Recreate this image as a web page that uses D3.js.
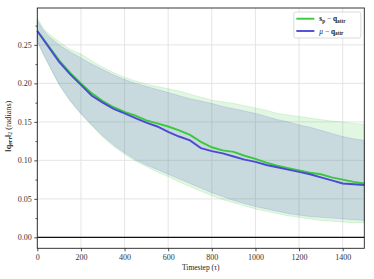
<!DOCTYPE html>
<html>
<head>
<meta charset="utf-8">
<script src="https://cdn.jsdelivr.net/npm/d3@7"></script>
<style>
  body { margin: 0; background: #fff; }
  svg { display: block; font-family: "Liberation Serif", "DejaVu Serif", serif; }
</style>
</head>
<body>
<div id="chart"></div>
<script>
// data
var timesteps = [0, 25, 50, 100, 150, 200, 250, 300, 350, 400, 450, 500, 550, 600, 650, 700,
  750, 800, 850, 900, 950, 1000, 1050, 1100, 1150, 1200, 1250, 1300, 1350, 1400, 1450, 1499];

var spMean = [0.268, 0.259, 0.249, 0.230, 0.214, 0.200, 0.187, 0.177, 0.169, 0.163, 0.158, 0.152,
  0.148, 0.144, 0.139, 0.133, 0.124, 0.117, 0.113, 0.111, 0.106, 0.102, 0.097, 0.093, 0.090,
  0.087, 0.084, 0.082, 0.078, 0.075, 0.072, 0.070];
var spUpper = [0.285, 0.273, 0.265, 0.254, 0.244, 0.238, 0.229, 0.221, 0.214, 0.208, 0.203, 0.199,
  0.196, 0.193, 0.190, 0.186, 0.182, 0.178, 0.176, 0.174, 0.171, 0.168, 0.165, 0.161, 0.159,
  0.157, 0.155, 0.153, 0.151, 0.150, 0.148, 0.147];
var spLower = [0.254, 0.239, 0.225, 0.198, 0.177, 0.160, 0.145, 0.130, 0.118, 0.108, 0.099, 0.092,
  0.085, 0.079, 0.072, 0.066, 0.060, 0.054, 0.049, 0.045, 0.041, 0.037, 0.034, 0.031, 0.028,
  0.026, 0.024, 0.022, 0.021, 0.020, 0.019, 0.019];

var muMean = [0.268, 0.258, 0.248, 0.228, 0.212, 0.198, 0.184, 0.175, 0.167, 0.161, 0.155, 0.149,
  0.144, 0.137, 0.131, 0.126, 0.116, 0.112, 0.109, 0.105, 0.101, 0.098, 0.094, 0.091, 0.088,
  0.085, 0.082, 0.078, 0.074, 0.070, 0.069, 0.068];
var muUpper = [0.282, 0.270, 0.262, 0.250, 0.241, 0.233, 0.225, 0.218, 0.211, 0.205, 0.200, 0.196,
  0.192, 0.188, 0.184, 0.180, 0.177, 0.174, 0.170, 0.167, 0.164, 0.161, 0.157, 0.153, 0.150,
  0.146, 0.143, 0.139, 0.135, 0.131, 0.128, 0.126];
var muLower = [0.255, 0.240, 0.226, 0.199, 0.178, 0.161, 0.146, 0.132, 0.120, 0.110, 0.101, 0.094,
  0.088, 0.082, 0.076, 0.070, 0.064, 0.058, 0.053, 0.048, 0.044, 0.040, 0.037, 0.034, 0.031,
  0.029, 0.027, 0.026, 0.025, 0.024, 0.023, 0.022];

var xTicks = [0, 200, 400, 600, 800, 1000, 1200, 1400];
var yTicks = [0, 0.05, 0.10, 0.15, 0.20, 0.25];
var yMinorTicks = [0.025, 0.075, 0.125, 0.175, 0.225, 0.275];

var green = "#3cc83c", blue = "#4b4bd2";

// dimensions
var W = 374, H = 279;
var margin = {top: 8, right: 9.7, bottom: 30.7, left: 37.3},
    width = W - margin.left - margin.right,
    height = H - margin.top - margin.bottom;

var svg = d3.select("#chart").append("svg")
    .attr("width", W).attr("height", H)
  .append("g")
    .attr("transform", "translate(" + margin.left + "," + margin.top + ")");

var x = d3.scaleLinear().domain([0, 1499]).range([0, width]);
var y = d3.scaleLinear().domain([-0.0142, 0.2979]).range([height, 0]);

// grid
svg.append("g").selectAll("line.gx").data(xTicks).enter().append("line")
    .attr("x1", d => x(d)).attr("x2", d => x(d))
    .attr("y1", 0).attr("y2", height)
    .attr("stroke", "#e2e2e2").attr("stroke-width", 0.9);
svg.append("g").selectAll("line.gy").data(yTicks).enter().append("line")
    .attr("x1", 0).attr("x2", width)
    .attr("y1", d => y(d)).attr("y2", d => y(d))
    .attr("stroke", "#e2e2e2").attr("stroke-width", 0.9);

var rows = timesteps.map(function (t, i) {
  return {t: t, sp: spMean[i], spU: spUpper[i], spL: spLower[i],
          mu: muMean[i], muU: muUpper[i], muL: muLower[i]};
});

// bands
var spArea = d3.area().x(d => x(d.t)).y0(d => y(d.spL)).y1(d => y(d.spU));
var muArea = d3.area().x(d => x(d.t)).y0(d => y(d.muL)).y1(d => y(d.muU));

svg.append("path").datum(rows).attr("d", spArea)
    .attr("fill", green).attr("fill-opacity", 0.15)
    .attr("stroke", green).attr("stroke-opacity", 0.2).attr("stroke-width", 0.8);
svg.append("path").datum(rows).attr("d", muArea)
    .attr("fill", blue).attr("fill-opacity", 0.17)
    .attr("stroke", blue).attr("stroke-opacity", 0.2).attr("stroke-width", 0.8);

// zero line
svg.append("line")
    .attr("x1", 0).attr("x2", width)
    .attr("y1", y(0)).attr("y2", y(0))
    .attr("stroke", "#111").attr("stroke-width", 1.2);

// mean lines
var spLine = d3.line().x(d => x(d.t)).y(d => y(d.sp));
var muLine = d3.line().x(d => x(d.t)).y(d => y(d.mu));
svg.append("path").datum(rows).attr("d", spLine)
    .attr("fill", "none").attr("stroke", green).attr("stroke-width", 1.9);
svg.append("path").datum(rows).attr("d", muLine)
    .attr("fill", "none").attr("stroke", blue).attr("stroke-width", 1.9);

// frame
svg.append("rect").attr("width", width).attr("height", height)
    .attr("fill", "none").attr("stroke", "#222").attr("stroke-width", 0.9);

// axes
svg.append("g")
    .attr("transform", "translate(0," + height + ")")
    .call(d3.axisBottom(x).tickValues(xTicks).tickFormat(d3.format("d")).tickSize(3).tickPadding(3));
svg.append("g")
    .call(d3.axisLeft(y).tickValues(yTicks).tickFormat(d3.format(".2f")).tickSize(3).tickPadding(2.5));
svg.append("g")
    .call(d3.axisLeft(y).tickValues(yMinorTicks).tickFormat("").tickSize(1.8));
svg.selectAll(".domain").remove();
svg.selectAll(".tick line").attr("stroke", "#222").attr("stroke-width", 0.8);
svg.selectAll(".tick text").attr("font-size", "8px").attr("fill", "#333")
    .attr("font-family", "Liberation Serif, serif");

// axis labels
svg.append("text")
    .attr("x", width / 2).attr("y", height + 21.5)
    .attr("text-anchor", "middle").attr("font-size", "7.5px").attr("fill", "#222")
    .text("Timestep (τ)");

var yl = svg.append("text")
    .attr("transform", "translate(" + (-26.5) + "," + (height / 2 - 2) + ") rotate(-90)")
    .attr("text-anchor", "middle").attr("font-size", "8.2px").attr("fill", "#222");
yl.append("tspan").text("‖");
yl.append("tspan").attr("font-weight", "bold").text("q");
yl.append("tspan").attr("font-weight", "bold").attr("font-size", "5.8px").attr("dy", 1.6).text("err");
yl.append("tspan").attr("dy", -1.6).text("‖");
yl.append("tspan").attr("font-size", "5.8px").attr("dy", 1.6).text("2");
yl.append("tspan").attr("dy", -1.6).text(" (radians)");

// legend
var legend = svg.append("g").attr("transform", "translate(" + (x(1176)) + "," + 4 + ")");
legend.append("rect")
    .attr("width", 67).attr("height", 26).attr("rx", 2)
    .attr("fill", "#fff").attr("fill-opacity", 0.85)
    .attr("stroke", "#d0d0d0").attr("stroke-width", 0.8);

var legendItems = [
  {color: green, main: "s", sub: "p"},
  {color: blue, main: "μ", sub: null}
];
legendItems.forEach(function (it, i) {
  var yy = 6.7 + i * 12.3;
  legend.append("line")
      .attr("x1", 2.5).attr("x2", 20.5).attr("y1", yy).attr("y2", yy)
      .attr("stroke", it.color).attr("stroke-width", 1.9);
  var t = legend.append("text").attr("x", 25.5).attr("y", yy + 2.5)
      .attr("font-size", "7.4px").attr("fill", "#222");
  if (it.sub) {
    t.append("tspan").attr("font-weight", "bold").text(it.main);
    t.append("tspan").attr("font-weight", "bold").attr("font-size", "5.2px").attr("dy", 1.4).text(it.sub);
    t.append("tspan").attr("dy", -1.4).text(" − ");
  } else {
    t.append("tspan").attr("font-style", "italic").text(it.main);
    t.append("tspan").text(" − ");
  }
  t.append("tspan").attr("font-weight", "bold").text("q");
  t.append("tspan").attr("font-weight", "bold").attr("font-size", "5.2px").attr("dy", 1.4).text("attr");
});
</script>
</body>
</html>
